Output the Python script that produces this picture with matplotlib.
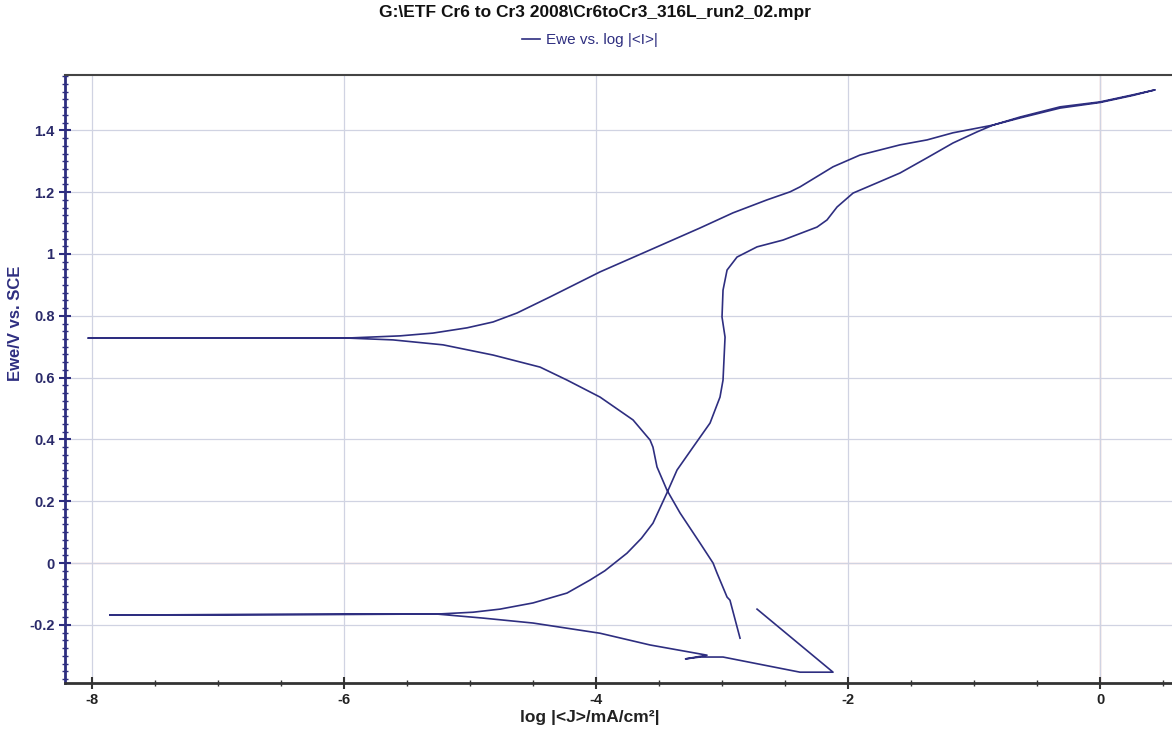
import matplotlib
matplotlib.use("Agg")
import matplotlib.pyplot as plt
from matplotlib.ticker import MultipleLocator, FuncFormatter

plt.rcParams['font.family'] = ['Liberation Sans', 'DejaVu Sans']

title = "G:\\ETF Cr6 to Cr3 2008\\Cr6toCr3_316L_run2_02.mpr"
series_name = "Ewe vs. log |<I>|"
xlabel = "log |<J>/mA/cm²|"
ylabel = "Ewe/V vs. SCE"

# cyclic polarisation curve (log J, E)
logJ = [-2.722, -2.119, -2.381, -2.992, -3.175, -3.29, -3.119,
        -3.571, -3.968, -4.500, -4.897, -5.262, -7.857, -5.262,
        -4.976, -4.762, -4.500, -4.230, -4.048, -3.930, -3.754, -3.640,
        -3.548, -3.437, -3.357, -3.230, -3.095, -3.016, -2.992,
        -2.976, -3.000, -2.992, -2.960, -2.881, -2.722, -2.516, -2.246,
        -2.167, -2.087, -1.960, -1.770, -1.587, -1.373, -1.167, -0.976,
        -0.849, -0.635, -0.317, 0.000, 0.262, 0.437,
        0.262, 0.000, -0.317, -0.635, -0.849, -1.167, -1.373, -1.587,
        -1.905, -2.119, -2.381, -2.460, -2.643, -2.913, -3.175, -3.571,
        -3.968, -4.365, -4.627, -4.817, -5.024, -5.294, -5.556, -5.976,
        -8.030, -5.976, -5.611, -5.214, -4.817, -4.444, -4.230, -3.968,
        -3.706, -3.571, -3.548, -3.516, -3.437, -3.333, -3.175, -3.071,
        -3.040, -2.960, -2.937, -2.857]
E = [-0.149, -0.353, -0.353, -0.304, -0.304, -0.310, -0.298,
     -0.265, -0.227, -0.194, -0.178, -0.165, -0.168, -0.165,
     -0.159, -0.149, -0.129, -0.097, -0.055, -0.025, 0.032, 0.080,
     0.129, 0.227, 0.301, 0.375, 0.453, 0.537, 0.592,
     0.731, 0.796, 0.883, 0.948, 0.990, 1.023, 1.045, 1.087,
     1.110, 1.152, 1.197, 1.230, 1.262, 1.311, 1.359, 1.395,
     1.417, 1.443, 1.476, 1.492, 1.515, 1.531,
     1.513, 1.490, 1.472, 1.440, 1.417, 1.392, 1.369, 1.353,
     1.320, 1.282, 1.217, 1.201, 1.175, 1.133, 1.084, 1.013,
     0.942, 0.861, 0.809, 0.780, 0.761, 0.744, 0.735, 0.728,
     0.728, 0.728, 0.722, 0.706, 0.673, 0.634, 0.592, 0.537,
     0.463, 0.398, 0.375, 0.311, 0.236, 0.162, 0.065, 0.000,
     -0.032, -0.110, -0.120, -0.243]

navy = '#2e2e80'
fig = plt.figure(figsize=(11.72, 7.32), dpi=100)
ax = fig.add_axes([65/1172, 1-683/732, (1172-65)/1172, (683-75)/732])

ax.plot(logJ, E, color=navy, lw=1.2, label=series_name)

ax.set_xlim(-8.214, 0.571)
ax.set_ylim(-0.388, 1.579)

ax.xaxis.set_major_locator(MultipleLocator(2))
ax.xaxis.set_minor_locator(MultipleLocator(0.5))
ax.yaxis.set_major_locator(MultipleLocator(0.2))
ax.yaxis.set_minor_locator(MultipleLocator(0.025))

def fmt(v, pos):
    s = "%g" % round(v, 2)
    return "0" if s == "-0" else s
ax.xaxis.set_major_formatter(FuncFormatter(fmt))
ax.yaxis.set_major_formatter(FuncFormatter(fmt))

ax.grid(True, which='major', color='#d0d3e2', lw=0.9)
ax.axhline(0, color='#e8aaaa', lw=0.9, zorder=1.5)
ax.axvline(0, color='#e6a090', lw=0.9, zorder=1.5)

ax.spines['right'].set_visible(False)
ax.spines['left'].set_color(navy)
ax.spines['left'].set_linewidth(2)
ax.spines['bottom'].set_color('#333333')
ax.spines['bottom'].set_linewidth(2)
ax.spines['top'].set_color('#444444')
ax.spines['top'].set_linewidth(1.5)

ax.tick_params(axis='x', which='major', direction='inout', length=9, width=1.5,
               colors='#333333', labelsize=10.5, pad=3)
ax.tick_params(axis='x', which='minor', direction='inout', length=5, width=1, colors='#333333')
ax.tick_params(axis='y', which='major', direction='inout', length=9, width=1.5,
               colors=navy, labelsize=10.5, pad=3)
ax.tick_params(axis='y', which='minor', direction='inout', length=5, width=1, colors=navy)
for lab in ax.get_xticklabels() + ax.get_yticklabels():
    lab.set_fontweight('bold')
for lab in ax.get_xticklabels():
    lab.set_color('#222222')
for lab in ax.get_yticklabels():
    lab.set_color('#2a2a6a')

ax.set_xlabel(xlabel, fontsize=12.5, fontweight='bold', color='#222222', labelpad=1)
ax.xaxis.set_label_coords((590 - 65) / (1172 - 65), -0.045)
ax.set_ylabel(ylabel, fontsize=12, fontweight='bold', color=navy)
ax.yaxis.set_label_coords((23 - 65) / (1172 - 65), (683 - 323) / (683 - 75))

fig.text(595/1172, 1 - 13/732, title, ha='center', va='center', fontsize=12.5,
         fontweight='bold', color='#111111')
leg = fig.legend(loc='center', bbox_to_anchor=(590/1172, 1 - 40/732), frameon=False,
                 fontsize=11, handlelength=1.2, handletextpad=0.4)
for t in leg.get_texts():
    t.set_color(navy)

fig.savefig('out.png', dpi=100)
